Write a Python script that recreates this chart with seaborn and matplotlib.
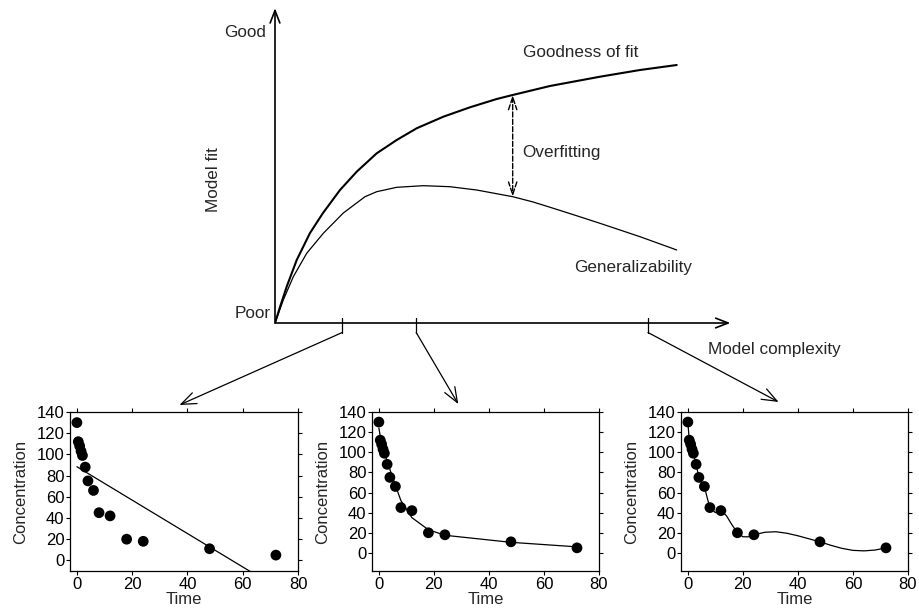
import matplotlib
matplotlib.use('Agg')
import matplotlib.pyplot as plt
from matplotlib.patches import ConnectionPatch
import numpy as np
import seaborn as sns

# concept diagram (model complexity vs model fit, arbitrary 0-100 scale)
cx_good = [0, 1.09, 2.54, 4.72, 7.61, 10.43, 14.13, 17.76, 22.11, 26.46,
           30.8, 36.59, 42.39, 48.2, 51.67, 59.78, 70.65, 79.35, 87.33]
fit_good = [0, 5.03, 11.42, 19.81, 28.3, 34.59, 41.82, 47.58, 53.36, 57.55,
            61.23, 64.87, 67.83, 70.44, 71.7, 74.53, 77.45, 79.56, 81.13]
cx_gen = [0, 1.8, 3.98, 6.89, 10.5, 14.85, 19.57, 22.11, 26.46, 32.24,
          38.04, 43.85, 51.67, 56.0, 59.78, 65.0, 70.65, 79.35, 87.33]
fit_gen = [0, 7.23, 14.56, 21.92, 28.21, 34.59, 39.72, 41.29, 42.67, 43.18,
           42.86, 41.82, 39.72, 38.1, 36.4, 34.0, 31.35, 27.14, 22.96]
levels = [14.6, 30.7, 81.1]
overfit_at = 51.67

# concentration-time data
time = [0, 0.5, 1, 1.5, 2, 3, 4, 6, 8, 12, 18, 24, 48, 72]
conc = [130, 112, 108, 103, 99, 88, 75, 66, 45, 42, 20, 18, 11, 5]

# moderate model fit (evaluated at sampling times)
fit2 = [124, 116, 110, 105, 100, 91, 83, 67, 52, 35, 23, 17.5, 10.5, 6]

# over-complex model curve
t3 = [0, 0.5, 1, 1.5, 2, 3, 4, 5, 6, 7, 8, 10, 12, 14, 16, 18, 20, 22, 24,
      28, 32, 36, 40, 44, 48, 52, 56, 60, 64, 68, 72]
fit3 = [130, 112, 108, 103, 99, 88, 75, 69, 66, 55, 45, 40, 42, 37, 28, 20,
        16, 16, 18, 20.5, 21, 19.5, 17, 14, 11, 7.5, 4.5, 2.5, 2, 2.8, 5]

sns.set_style('ticks')
plt.rcParams['font.family'] = ['Liberation Sans', 'DejaVu Sans']

fig = plt.figure(figsize=(9.2, 6.12), dpi=100)

# ---- top concept diagram
top = fig.add_axes([275 / 920, 1 - 323 / 612, 460 / 920, 318 / 612])
top.set_xlim(0, 100)
top.set_ylim(0, 100)
top.axis('off')

sns.lineplot(x=cx_good, y=fit_good, ax=top, color='black', lw=1.5, sort=False)
sns.lineplot(x=cx_gen, y=fit_gen, ax=top, color='black', lw=0.9, sort=False)

arrow_kw = dict(arrowstyle='->,head_length=0.9,head_width=0.35', lw=1.2,
                color='black', shrinkA=0, shrinkB=0)
top.annotate('', xy=(0, 99), xytext=(0, 0), arrowprops=arrow_kw,
             annotation_clip=False)
top.annotate('', xy=(99, 0), xytext=(0, 0), arrowprops=arrow_kw,
             annotation_clip=False)
for lv in levels:
    top.plot([lv, lv], [1.6, -3.0], color='black', lw=0.9, clip_on=False)

g_hi = np.interp(overfit_at, cx_good, fit_good)
g_lo = np.interp(overfit_at, cx_gen, fit_gen)
top.annotate('', xy=(overfit_at, g_lo), xytext=(overfit_at, g_hi),
             arrowprops=dict(arrowstyle='<->,head_length=0.9,head_width=0.3',
                             lw=1.0, ls='--', color='black',
                             shrinkA=0, shrinkB=0))

fs = 12.3
top.text(-2, 91.5, 'Good', ha='right', va='center', fontsize=fs)
top.text(-1, 3.1, 'Poor', ha='right', va='center', fontsize=fs)
top.text(-13.3, 45, 'Model fit', rotation=90, ha='center', va='center', fontsize=fs)
top.text(94.1, -8.2, 'Model complexity', ha='left', va='center', fontsize=fs,
         clip_on=False)
top.text(53.9, 85.2, 'Goodness of fit', ha='left', va='center', fontsize=fs)
top.text(53.7, 53.5, 'Overfitting', ha='left', va='center', fontsize=fs)
top.text(65, 17.3, 'Generalizability', ha='left', va='center', fontsize=fs)

# ---- bottom example fits
lefts = [70, 372, 681]
widths = [228, 227, 227]
axes = []
for lft, w in zip(lefts, widths):
    axes.append(fig.add_axes([lft / 920, 1 - 571 / 612, w / 920, 159 / 612]))

for i, ax in enumerate(axes):
    sns.scatterplot(x=time, y=conc, ax=ax, color='black', s=60,
                    edgecolor='none', zorder=3)
    if i == 0:
        sns.regplot(x=time, y=conc, ax=ax, ci=None, scatter=False,
                    line_kws=dict(color='black', lw=0.9))
    elif i == 1:
        sns.lineplot(x=time, y=fit2, ax=ax, color='black', lw=0.9)
    else:
        sns.lineplot(x=t3, y=fit3, ax=ax, color='black', lw=0.9)
    ax.set_xlim(-2.5, 80)
    ax.set_ylim(-10 if i == 0 else -18, 140)
    ax.set_xticks(range(0, 81, 20))
    ax.set_yticks(range(0, 141, 20))
    ax.tick_params(top=True, right=True, direction='out', length=3,
                   width=0.8, labelsize=12, pad=1, colors='black')
    ax.set_xlabel('Time', fontsize=12, labelpad=0)
    ax.set_ylabel('Concentration', fontsize=12, labelpad=6)
    for sp in ax.spines.values():
        sp.set_visible(True)
        sp.set_linewidth(0.9)
        sp.set_color('black')

# arrows from complexity levels to example fits
targets = [(0.48, 1.044), (0.38, 1.05), (0.43, 1.063)]
for lv, ax, tg in zip(levels, axes, targets):
    con = ConnectionPatch(xyA=(lv, -3.0), coordsA=top.transData,
                          xyB=tg, coordsB=ax.transAxes,
                          arrowstyle='->,head_length=0.9,head_width=0.35',
                          mutation_scale=12, lw=0.9, color='black',
                          shrinkA=0, shrinkB=0)
    fig.add_artist(con)

fig.savefig('out.png', dpi=100)
